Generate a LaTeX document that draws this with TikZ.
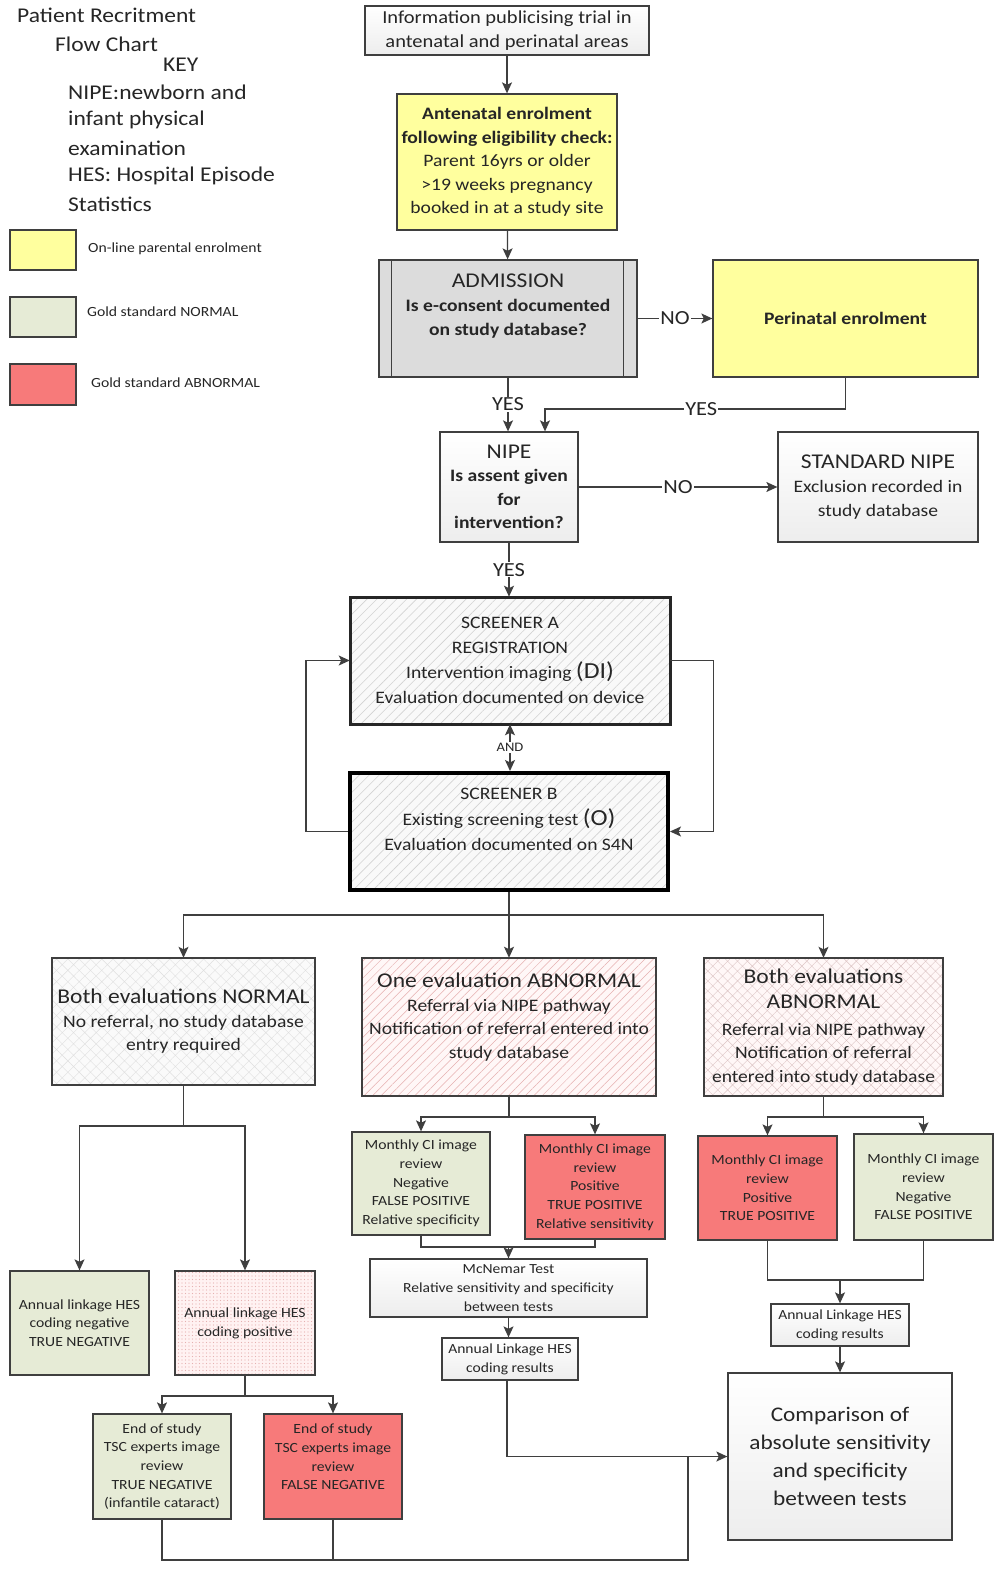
\documentclass[tikz,border=0pt]{standalone}
\usepackage{fontspec}
\setmainfont{Carlito}[FakeStretch=1.12]
\usetikzlibrary{arrows.meta,patterns.meta,calc}
\definecolor{linec}{HTML}{3F3F3F}
\definecolor{txt}{HTML}{262626}
\definecolor{yel}{HTML}{FFFF9E}
\definecolor{grn}{HTML}{E6EBD6}
\definecolor{redc}{HTML}{F77A7A}
\definecolor{gry}{HTML}{F2F2F2}
\definecolor{admg}{HTML}{DCDCDC}
\definecolor{pinkl}{HTML}{E6B0B0}
\definecolor{pinkg}{HTML}{DCC4C4}
\newcommand\fsT{\fontsize{21}{28}\selectfont}
\newcommand\fsI{\fontsize{18.3}{23.5}\selectfont}
\newcommand\fsA{\fontsize{17.5}{23.5}\selectfont}
\newcommand\fsL{\fontsize{21}{25}\selectfont}
\newcommand\fsB{\fontsize{17.5}{25}\selectfont}
\newcommand\fsBB{\fontsize{23}{25}\selectfont}
\newcommand\fsC{\fontsize{14}{18.7}\selectfont}
\newcommand\fsD{\fontsize{13.9}{19}\selectfont}
\newcommand\fsE{\fontsize{20.8}{28}\selectfont}
\newcommand\fsK{\fontsize{14}{15}\selectfont}
\newcommand\fsY{\fontsize{20}{20}\selectfont}
\newcommand\fsN{\fontsize{13}{13}\selectfont}
\begin{document}
\begin{tikzpicture}[x=1pt,y=-1pt,
  box/.style={draw=linec, line width=1.3pt, align=center, inner sep=2pt, text=txt},
  graybox/.style={box, top color=white, bottom color=gray!14},
  yelbox/.style={box, fill=yel},
  grnbox/.style={box, fill=grn},
  redbox/.style={box, fill=redc, text=black!85},
  arr/.style={draw=linec, line width=1.3pt, -{Stealth[length=11pt,width=10pt,inset=2.5pt]}},
  darr/.style={draw=linec, line width=1.3pt, {Stealth[length=11pt,width=10pt,inset=2.5pt]}-{Stealth[length=11pt,width=10pt,inset=2.5pt]}},
  ln/.style={draw=linec, line width=1.3pt},
  lab/.style={fill=white, inner sep=1pt, text=txt, font=\fsY},
  plain/.style={inner sep=0pt, text=txt, anchor=west},
  txtnode/.style={inner sep=0pt, text=txt, align=center}
]
\useasboundingbox (0,0) rectangle (1000,1570);
\fill[white] (0,0) rectangle (1000,1570);

% ---------- title and key ----------
\node[plain, font=\fsT] (t1) at (17,15) {Patient Recritment};
\node[plain, font=\fsT] (t2) at (55,44) {Flow Chart};
\node[plain, font=\fsT] (t3) at (163,65) {KEY};
\node[plain, font=\fsT] (t4) at (68,92) {NIPE:newborn and};
\node[plain, font=\fsT] (t5) at (68,120) {infant physical};
\node[plain, font=\fsT] (t6) at (68,148) {examination};
\node[plain, font=\fsT] (t7) at (68,176) {HES: Hospital Episode};
\node[plain, font=\fsT] (t8) at (68,204) {Statistics};

\node[box, fill=yel, minimum width=66pt, minimum height=40pt] (k1) at (43,250) {};
\node[box, fill=grn, minimum width=66pt, minimum height=40pt] (k2) at (43,317) {};
\node[box, fill=redc, minimum width=66pt, minimum height=41pt] (k3) at (43,384.5) {};
\node[plain, font=\fsK] (k1t) at (88,249) {On-line parental enrolment};
\node[plain, font=\fsK] (k2t) at (87,312) {Gold standard NORMAL};
\node[plain, font=\fsK] (k3t) at (91,383) {Gold standard ABNORMAL};

% ---------- top flow ----------
\node[graybox, minimum width=284pt, minimum height=49pt, font=\fsI] (info) at (507,30.5)
  {Information publicising trial in\\antenatal and perinatal areas};
\node[yelbox, minimum width=220pt, minimum height=136pt, font=\fsA] (ante) at (507,162)
  {\textbf{Antenatal enrolment}\\\textbf{following eligibility check:}\\Parent 16yrs or older\\>19 weeks pregnancy\\booked in at a study site};
\node[box, fill=admg, minimum width=258pt, minimum height=117pt] (adm) at (508,318.5) {};
\draw[ln, line width=1pt] ([xshift=13pt]adm.north west) -- ([xshift=13pt]adm.south west);
\draw[ln, line width=1pt] ([xshift=-14pt]adm.north east) -- ([xshift=-14pt]adm.south east);
\node[txtnode, font=\fsA] (admt) at (508,306)
  {{\fsL ADMISSION}\\[1pt]\textbf{Is e-consent documented}\\\textbf{on study database?}};
\node[yelbox, minimum width=265pt, minimum height=117pt, font=\fsA] (peri) at (845.5,318.5)
  {\textbf{Perinatal enrolment}};
\node[graybox, minimum width=138pt, minimum height=110pt, font=\fsA] (nipe) at (509,487)
  {{\fsL NIPE}\\\textbf{Is assent given}\\\textbf{for}\\\textbf{intervention?}};
\node[graybox, minimum width=200pt, minimum height=110pt, font=\fsA] (std) at (878,487)
  {{\fsL STANDARD NIPE}\\[1pt]Exclusion recorded in\\study database};

% ---------- screeners ----------
\node[box, draw=black!85, line width=3pt, minimum width=320pt, minimum height=127pt,
  preaction={fill=gray!5}, pattern={Lines[angle=45,distance=7pt,line width=0.6pt]}, pattern color=gray!35,
  font=\fsB] (scrA) at (510,660.5)
  {SCREENER A\\REGISTRATION\\Intervention imaging {\fsBB(DI)}\\Evaluation documented on device};
\node[box, draw=black, line width=4pt, minimum width=318pt, minimum height=117pt,
  preaction={fill=gray!5}, pattern={Lines[angle=45,distance=7pt,line width=0.6pt]}, pattern color=gray!35] (scrB) at (509,831.5) {};
\node[txtnode, font=\fsB] (scrBt) at (509,819.5)
  {SCREENER B\\[1pt]Existing screening test {\fsBB(O)}\\Evaluation documented on S4N};

% ---------- evaluation outcomes ----------
\node[box, minimum width=263pt, minimum height=127pt,
  preaction={fill=black!2}, pattern={Hatch[angle=45,distance=8pt,line width=0.4pt]}, pattern color=gray!25,
  font=\fsA] (bn) at (183.5,1021.5)
  {{\fsL Both evaluations NORMAL}\\No referral, no study database\\entry required};
\node[box, minimum width=294pt, minimum height=138pt,
  preaction={fill=red!3}, pattern={Lines[angle=45,distance=6pt,line width=0.5pt]}, pattern color=pinkl] (oa) at (509,1027) {};
\node[txtnode, font=\fsA] (oat) at (509,1017)
  {{\fsL One evaluation ABNORMAL}\\Referral via NIPE pathway\\Notification of referral entered into\\study database};
\node[box, minimum width=239pt, minimum height=138pt,
  preaction={fill=red!3}, pattern={Hatch[angle=45,distance=7pt,line width=0.4pt]}, pattern color=pinkg,
  font=\fsA] (ba) at (823.5,1027)
  {{\fsL Both evaluations}\\[2pt]{\fsL ABNORMAL}\\[3pt]Referral via NIPE pathway\\Notification of referral\\entered into study database};

% ---------- left branch ----------
\node[grnbox, minimum width=139pt, minimum height=104pt, font=\fsC] (hesneg) at (79.5,1323)
  {Annual linkage HES\\coding negative\\TRUE NEGATIVE};
\node[box, minimum width=140pt, minimum height=104pt,
  preaction={fill=red!5}, pattern={Dots[distance=3.5pt,radius=0.55pt]}, pattern color=pinkl,
  font=\fsC] (hespos) at (245,1323)
  {Annual linkage HES\\coding positive};
\node[grnbox, minimum width=138pt, minimum height=105pt, font=\fsC] (eotn) at (162,1466.5)
  {End of study\\TSC experts image\\review\\TRUE NEGATIVE\\(infantile cataract)};
\node[redbox, minimum width=138pt, minimum height=105pt] (eofn) at (333,1466.5) {};
\node[txtnode, font=\fsC, text=black!85] (eofnt) at (333,1457)
  {End of study\\TSC experts image\\review\\FALSE NEGATIVE};

% ---------- middle branch ----------
\node[grnbox, minimum width=138pt, minimum height=103pt, font=\fsC] (m1g) at (421,1183.5)
  {Monthly CI image\\review\\Negative\\FALSE POSITIVE\\Relative specificity};
\node[redbox, minimum width=140pt, minimum height=104pt, font=\fsC] (m1r) at (595,1187)
  {Monthly CI image\\review\\Positive\\TRUE POSITIVE\\Relative sensitivity};
\node[graybox, minimum width=277pt, minimum height=58pt, font=\fsD] (mcn) at (508.5,1288)
  {McNemar Test\\Relative sensitivity and specificity\\between tests};
\node[graybox, minimum width=136pt, minimum height=42pt, font=\fsD] (hesm) at (510,1359)
  {Annual Linkage HES\\coding results};

% ---------- right branch ----------
\node[redbox, minimum width=139pt, minimum height=104pt, font=\fsC] (m2r) at (767.5,1188)
  {Monthly CI image\\review\\Positive\\TRUE POSITIVE};
\node[grnbox, minimum width=139pt, minimum height=106pt, font=\fsC] (m2g) at (923.5,1187)
  {Monthly CI image\\review\\Negative\\FALSE POSITIVE};
\node[graybox, minimum width=138pt, minimum height=42pt, font=\fsD] (hesr) at (840,1325)
  {Annual Linkage HES\\coding results};
\node[graybox, minimum width=224pt, minimum height=167pt, font=\fsE] (comp) at (840,1456.5)
  {Comparison of\\absolute sensitivity\\and specificity\\between tests};

% ---------- connectors ----------
\draw[arr] (info) -- (ante);
\draw[arr] (ante) -- (adm);
\draw[arr] (adm) -- node[lab]{NO} (peri);
\draw[arr] (adm.south) -- node[lab]{YES} (adm.south |- nipe.north);
\coordinate (yj) at (545,409);
\draw[arr] (peri.south) |- node[lab, pos=0.74]{YES} (yj) -- (yj |- nipe.north);
\draw[arr] (nipe) -- node[lab]{NO} (std);
\draw[arr] (nipe.south) -- node[lab]{YES} (nipe.south |- scrA.north);
\draw[darr] (scrA.south) -- node[fill=white, inner sep=1pt, text=txt, font=\fsN]{AND} (scrA.south |- scrB.north);
\draw[arr] (scrB.west) -- ++(-42,0) |- (scrA.west);
\draw[arr] (scrA.east) -- ++(43,0) |- (scrB.east);

\coordinate (br) at (508,915);
\draw[arr] (scrB.south) -- (scrB.south |- oa.north);
\draw[arr] (scrB.south |- br) -| (bn.north);
\draw[arr] (scrB.south |- br) -| (ba.north);

\coordinate (b1) at (183.5,1126);
\draw[ln] (bn.south) -- (b1);
\draw[arr] (b1) -| (hesneg.north);
\draw[arr] (b1) -| (hespos.north);
\coordinate (b2) at (245,1396);
\draw[ln] (hespos.south) -- (b2);
\draw[arr] (b2) -| (eotn.north);
\draw[arr] (b2) -| (eofn.north);
\coordinate (bot) at (688,1560);
\draw[ln] (eotn.south) |- (bot) -- (bot |- comp.west);
\draw[ln] (eofn.south) -- (eofn.south |- bot);
\draw[arr] (hesm.south -| 507,0) |- (comp.west);

\coordinate (b3) at (509,1117);
\draw[ln] (oa.south) -- (b3);
\draw[arr] (b3) -| (m1g.north);
\draw[arr] (b3) -| (m1r.north);
\coordinate (mj) at (508.5,1247);
\draw[ln] (m1g.south) |- (mj);
\draw[ln] (m1r.south) |- (mj);
\draw[arr] (mj) -- (mcn.north);
\draw[arr] (mcn.south -| 508.5,0) -- (hesm.north -| 508.5,0);

\coordinate (b4) at (823.5,1117);
\draw[ln] (ba.south) -- (b4);
\draw[arr] (b4) -| (m2r.north);
\draw[arr] (b4) -| (m2g.north);
\coordinate (rj) at (840,1280);
\draw[ln] (m2r.south) |- (rj) -| (m2g.south);
\draw[arr] (rj) -- (hesr.north);
\draw[arr] (hesr) -- (comp);
\end{tikzpicture}
\end{document}
